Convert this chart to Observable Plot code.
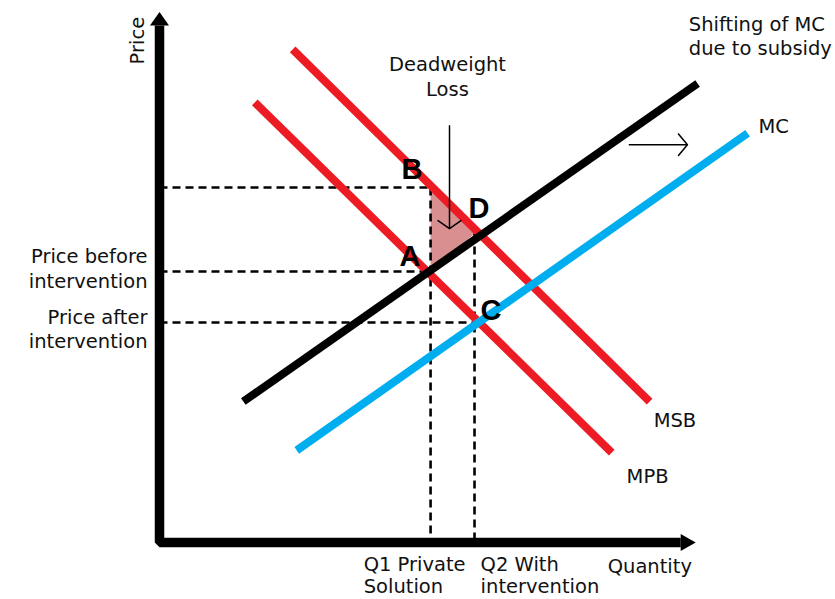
<!DOCTYPE html>
<html><head><meta charset="utf-8">
<script src="https://cdn.jsdelivr.net/npm/d3@7"></script>
<script src="https://cdn.jsdelivr.net/npm/@observablehq/plot@0.6"></script>
<style>body{margin:0;background:#fff}</style>
</head><body><div id="chart"></div>
<script>
// Curves (quantity / price units on a 0–100 scale)
const curveNames  = ["MSB", "MPB", "MC after subsidy", "MC"];
const curveColors = ["#ed1c24", "#ed1c24", "#000000", "#00aeef"];
const curveStartQ = [19.7, 14.1, 12.4, 20.3];
const curveStartP = [91.0, 81.2, 26.0, 17.0];
const curveEndQ   = [72.5, 66.9, 79.6, 87.0];
const curveEndP   = [26.0, 16.6, 84.7, 75.5];

// Equilibrium points
const pointNames = ["B", "A", "D", "C"];
const pointQ     = [40.1, 40.1, 46.6, 46.6];
const pointP     = [65.5, 50.0, 57.0, 40.6];

// Axis extents
const axisTopP = 95.4;
const axisRightQ = 77.1;

const pt = Object.fromEntries(pointNames.map((n, i) => [n, {q: pointQ[i], p: pointP[i]}]));

const curveData = curveNames.flatMap((name, i) => [
  {name, q: curveStartQ[i], p: curveStartP[i], color: curveColors[i]},
  {name, q: curveEndQ[i], p: curveEndP[i], color: curveColors[i]}
]);

const guides = [
  {q1: 0, p1: pt.B.p, q2: pt.B.q, p2: pt.B.p},
  {q1: 0, p1: pt.A.p, q2: pt.A.q, p2: pt.A.p},
  {q1: 0, p1: pt.C.p, q2: pt.C.q, p2: pt.C.p},
  {q1: pt.B.q, p1: pt.B.p, q2: pt.B.q, p2: 0},
  {q1: pt.D.q, p1: pt.D.p, q2: pt.D.q, p2: 0}
];

const triangle = [pt.B, pt.D, pt.A, pt.B];

const axisPath = [{q: 0, p: axisTopP}, {q: 0, p: 0}, {q: axisRightQ, p: 0}];

const headUp = {draw(c) { c.moveTo(0, -13.5); c.lineTo(9.5, 0); c.lineTo(-9.5, 0); c.closePath(); }};
const headRight = {draw(c) { c.moveTo(15, 0); c.lineTo(0, -8.5); c.lineTo(0, 8.5); c.closePath(); }};

const curveLabels = [
  {text: "MSB", q: 73.1, p: 21.4},
  {text: "MPB", q: 69.1, p: 10.9},
  {text: "MC", q: 88.6, p: 75.5},
  {text: "Shifting of MC\ndue to subsidy", q: 78.3, p: 89.9}
];
const letterPos = [
  {text: "B", q: 35.8, p: 67.0},
  {text: "A", q: 35.5, p: 51.1},
  {text: "D", q: 45.7, p: 59.8},
  {text: "C", q: 47.5, p: 41.1}
];
const qLabels = [
  {text: "Q1 Private\nSolution", q: 30.2, p: -9.4},
  {text: "Q2 With\nintervention", q: 47.5, p: -9.4},
  {text: "Quantity", q: 66.3, p: -5.7}
];
const pLabels = [
  {text: "Price before\nintervention", p: 46.9},
  {text: "Price after\nintervention", p: 35.8}
];

const font = "DejaVu Sans";
const fs = 19.5;

const chart = Plot.plot({
  width: 835, height: 599,
  marginLeft: 159, marginRight: 0, marginTop: 0, marginBottom: 57,
  x: {domain: [0, 100], axis: null},
  y: {domain: [0, 100], axis: null},
  style: {fontFamily: font, background: "#fff"},
  marks: [
    Plot.line(triangle, {x: "q", y: "p", fill: "#d98f8f", stroke: "none"}),
    Plot.link(guides, {x1: "q1", y1: "p1", x2: "q2", y2: "p2", stroke: "#000", strokeWidth: 2.6, strokeDasharray: "8,5"}),
    Plot.line(curveData, {x: "q", y: "p", z: "name", stroke: "color", strokeWidth: 8, strokeLinecap: "butt"}),
    Plot.line(axisPath, {x: "q", y: "p", stroke: "#000", strokeWidth: 9.5, strokeLinejoin: "miter", strokeLinecap: "butt"}),
    Plot.dot([{q: 0, p: axisTopP}], {x: "q", y: "p", symbol: headUp, fill: "#000", stroke: "none"}),
    Plot.dot([{q: axisRightQ, p: 0}], {x: "q", y: "p", symbol: headRight, fill: "#000", stroke: "none"}),
    Plot.arrow([{q1: 42.9, p1: 76.9, q2: 42.9, p2: 57.9}], {x1: "q1", y1: "p1", x2: "q2", y2: "p2", stroke: "#000", strokeWidth: 1.5, headLength: 14, headAngle: 110}),
    Plot.arrow([{q1: 69.5, p1: 73.4, q2: 78.1, p2: 73.4}], {x1: "q1", y1: "p1", x2: "q2", y2: "p2", stroke: "#000", strokeWidth: 1.5, headLength: 14, headAngle: 100}),
    Plot.text(curveLabels, {x: "q", y: "p", text: "text", textAnchor: "start", lineAnchor: "bottom", lineHeight: 1.23, fontSize: fs, fill: "#111"}),
    Plot.text(letterPos, {x: "q", y: "p", text: "text", textAnchor: "start", lineAnchor: "bottom", fontSize: 29, fontWeight: "bold", fontFamily: "Liberation Sans", fill: "#000"}),
    Plot.text(qLabels, {x: "q", y: "p", text: "text", textAnchor: "start", lineAnchor: "bottom", lineHeight: 1.16, fontSize: fs, fill: "#111"}),
    Plot.text(pLabels, {x: () => 0, y: "p", dx: -12, text: "text", textAnchor: "end", lineAnchor: "bottom", lineHeight: 1.28, fontSize: fs, fill: "#111"}),
    Plot.text(["Deadweight\nLoss"], {x: () => 42.6, y: () => 82.3, text: d => d, textAnchor: "middle", lineAnchor: "bottom", lineHeight: 1.28, fontSize: fs, fill: "#111"}),
    Plot.text(["Price"], {x: () => 0, y: () => 92.6, dx: -22, text: d => d, rotate: -90, textAnchor: "middle", lineAnchor: "middle", fontSize: fs, fill: "#111"})
  ]
});
document.getElementById("chart").append(chart);
</script>
</body></html>
